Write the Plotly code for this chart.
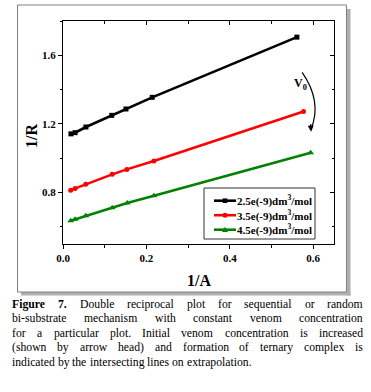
import plotly.graph_objects as go

# ---------------- data ----------------
series_names = ["<b>2.5e(-9)dm<sup>3</sup>/mol</b>",
                "<b>3.5e(-9)dm<sup>3</sup>/mol</b>",
                "<b>4.5e(-9)dm<sup>3</sup>/mol</b>"]
x_black = [0.019, 0.029, 0.055, 0.117, 0.151, 0.214, 0.561]
y_black = [1.142, 1.149, 1.182, 1.250, 1.287, 1.355, 1.706]
x_red = [0.0185, 0.029, 0.0545, 0.118, 0.153, 0.218, 0.577]
y_red = [0.814, 0.824, 0.849, 0.906, 0.935, 0.984, 1.272]
x_green = [0.0185, 0.029, 0.0545, 0.118, 0.154, 0.218, 0.594]
y_green = [0.636, 0.644, 0.665, 0.712, 0.739, 0.782, 1.032]

x_ticks = [0.0, 0.2, 0.4, 0.6]
x_ticklabels = ["0.0", "0.2", "0.4", "0.6"]
y_ticks = [0.8, 1.2, 1.6]
y_ticklabels = ["0.8", "1.2", "1.6"]

caption_lines = [
    [("Figure", True), ("7.", True), ("Double", False), ("reciprocal", False), ("plot", False),
     ("for", False), ("sequential", False), ("or", False), ("random", False)],
    [(w, False) for w in "bi-substrate mechanism with constant venom concentration".split()],
    [(w, False) for w in "for a particular plot. Initial venom concentration is increased".split()],
    [(w, False) for w in "(shown by arrow head) and formation of ternary complex is".split()],
    [(w, False) for w in "indicated by the intersecting lines on extrapolation.".split()],
]

# ---------------- layout geometry ----------------
W, H = 371, 392
PL, PT, PW, PH = 63, 21, 271, 223


def px2x(px):
    return (px - PL) / PW


def py2y(py):
    return (PT + PH - py) / PH


SERIF = "Liberation Serif"

fig = go.Figure()
styles = [("black", "square", 5), ("#ff0000", "circle", 5), ("#008000", "triangle-up", 6)]
for name, xs, ys, (col, sym, ms) in zip(series_names,
                                          [x_black, x_red, x_green],
                                          [y_black, y_red, y_green], styles):
    fig.add_trace(go.Scatter(x=xs, y=ys, name=name, mode="lines+markers",
                             line=dict(color=col, width=2.6),
                             marker=dict(color=col, symbol=sym, size=ms)))

# dummy trace for mirrored (inside) axes
fig.add_trace(go.Scatter(x=[None], y=[None], xaxis="x2", yaxis="y2",
                         showlegend=False, hoverinfo="skip"))

tickfont = dict(family=SERIF, size=11, color="black", weight="bold")
common = dict(showgrid=False, zeroline=False, showline=True, linecolor="black",
              linewidth=1)
fig.update_layout(
    width=W, height=H,
    margin=dict(l=PL, r=W - PL - PW, t=PT, b=H - PT - PH),
    paper_bgcolor="white", plot_bgcolor="rgba(0,0,0,0)",
    showlegend=False,
    xaxis=dict(range=[0, 0.65], tickvals=x_ticks, ticktext=x_ticklabels,
               ticks="outside", ticklen=4, tickcolor="black", tickfont=tickfont,
               minor=dict(dtick=0.1, tick0=0, ticks="outside", ticklen=2.5, tickcolor="black"),
               **common),
    yaxis=dict(range=[0.5, 1.8], tickvals=y_ticks, ticktext=y_ticklabels,
               ticks="outside", ticklen=4, tickcolor="black", tickfont=tickfont,
               minor=dict(dtick=0.2, tick0=0.6, ticks="outside", ticklen=2.5, tickcolor="black"),
               **common),
    xaxis2=dict(range=[0, 0.65], overlaying="x", side="top", anchor="y",
                tickvals=[0.0, 0.2, 0.4, 0.6], showticklabels=False,
                ticks="inside", ticklen=4, tickcolor="black",
                minor=dict(dtick=0.1, tick0=0, ticks="inside", ticklen=2.5, tickcolor="black"),
                **common),
    yaxis2=dict(range=[0.5, 1.8], overlaying="y", side="right", anchor="x",
                tickvals=y_ticks, showticklabels=False,
                ticks="inside", ticklen=4, tickcolor="black",
                minor=dict(dtick=0.2, tick0=0.6, ticks="inside", ticklen=2.5, tickcolor="black"),
                **common),
)

# frame with shadow
shapes = [
    dict(type="rect", xref="paper", yref="paper",
         x0=px2x(346.5), x1=px2x(350.5), y0=py2y(9), y1=py2y(295.5),
         fillcolor="#b0b0b0", line=dict(width=0), layer="below"),
    dict(type="rect", xref="paper", yref="paper",
         x0=px2x(21), x1=px2x(350.5), y0=py2y(292), y1=py2y(295.5),
         fillcolor="#b0b0b0", line=dict(width=0), layer="below"),
    dict(type="rect", xref="paper", yref="paper",
         x0=px2x(17.5), x1=px2x(346.5), y0=py2y(292), y1=py2y(5),
         fillcolor="white", line=dict(color="#808080", width=1), layer="below"),
    # curved arrow (V0 increase)
    dict(type="path", xref="x", yref="y",
         path="M 0.5736,1.50 Q 0.622,1.33 0.595,1.17",
         line=dict(color="black", width=1.2)),
]

annotations = [
    dict(x=0.595, y=1.155, ax=-0.5, ay=-9, xref="x", yref="y", text="",
         showarrow=True, arrowhead=2, arrowsize=1, arrowwidth=1.2, arrowcolor="black"),
    dict(x=0.569, y=1.435, xref="x", yref="y", xanchor="center", yanchor="middle",
         text="<b>V</b><sub><b>0</b></sub>", showarrow=False,
         font=dict(family=SERIF, size=12, color="black")),
    dict(x=px2x(31), y=py2y(136), xref="paper", yref="paper", text="<b>1/R</b>",
         xanchor="center", yanchor="middle",
         textangle=-90, showarrow=False, font=dict(family=SERIF, size=16, color="black")),
    dict(x=px2x(198.5), y=py2y(280), xref="paper", yref="paper", text="<b>1/A</b>",
         xanchor="center", yanchor="middle",
         showarrow=False, font=dict(family=SERIF, size=16, color="black")),
]

# ---- legend box (drawn to match the compact Origin legend) ----
LX0, LX1, LY0, LY1 = 204, 315, 188, 239
shapes.append(dict(type="rect", xref="paper", yref="paper",
                   x0=px2x(LX0), x1=px2x(LX1), y0=py2y(LY1), y1=py2y(LY0),
                   fillcolor="white", line=dict(color="#333333", width=1)))
row_y = [200.7, 215.2, 229.7]
for (col, sym, ms), name, ry in zip(styles, series_names, row_y):
    shapes.append(dict(type="line", xref="paper", yref="paper",
                       x0=px2x(214), x1=px2x(236), y0=py2y(ry), y1=py2y(ry),
                       line=dict(color=col, width=2.6)))
    cx = 225
    if sym == "square":
        shapes.append(dict(type="rect", xref="paper", yref="paper",
                           x0=px2x(cx - 2.3), x1=px2x(cx + 2.3),
                           y0=py2y(ry + 2.3), y1=py2y(ry - 2.3),
                           fillcolor=col, line=dict(width=0)))
    elif sym == "circle":
        shapes.append(dict(type="circle", xref="paper", yref="paper",
                           x0=px2x(cx - 2.5), x1=px2x(cx + 2.5),
                           y0=py2y(ry + 2.5), y1=py2y(ry - 2.5),
                           fillcolor=col, line=dict(width=0)))
    else:
        shapes.append(dict(type="path", xref="paper", yref="paper",
                           path=(f"M {px2x(cx - 3)},{py2y(ry + 2.3)} "
                                 f"L {px2x(cx + 3)},{py2y(ry + 2.3)} "
                                 f"L {px2x(cx)},{py2y(ry - 3)} Z"),
                           fillcolor=col, line=dict(width=0)))
    annotations.append(dict(x=px2x(237), y=py2y(ry), xref="paper", yref="paper",
                            xanchor="left", yanchor="middle", showarrow=False,
                            text=name, borderpad=0, borderwidth=0,
                            font=dict(family=SERIF, size=11, color="black")))

fig.update_layout(shapes=shapes)

# caption, justified (Times metrics, Liberation Serif is metric compatible)
REG = {' ': 250, '(': 333, ')': 333, ',': 250, '-': 333, '.': 250, '/': 278,
       'A': 722, 'B': 667, 'C': 667, 'D': 722, 'E': 611, 'F': 556, 'G': 722, 'H': 722,
       'I': 333, 'J': 389, 'K': 722, 'L': 611, 'M': 889, 'N': 722, 'O': 722, 'P': 556,
       'Q': 722, 'R': 667, 'S': 556, 'T': 611, 'U': 722, 'V': 722, 'W': 944,
       'a': 444, 'b': 500, 'c': 444, 'd': 500, 'e': 444, 'f': 333, 'g': 500, 'h': 500,
       'i': 278, 'j': 278, 'k': 500, 'l': 278, 'm': 778, 'n': 500, 'o': 500, 'p': 500,
       'q': 500, 'r': 333, 's': 389, 't': 278, 'u': 500, 'v': 500, 'w': 722, 'x': 500,
       'y': 500, 'z': 444}
BOLD = dict(REG)
BOLD.update({'F': 611, 'u': 556, 'r': 444, 'g': 500, 'i': 278, 'e': 444})
for d in "0123456789":
    REG[d] = 500
    BOLD[d] = 500

CAP_SIZE = 11.7
LEFT, RIGHT = 12, 363
centers = [304, 318.5, 333, 347.5, 362]


def wwidth(word, bold):
    tab = BOLD if bold else REG
    return sum(tab.get(c, 500) for c in word) * CAP_SIZE / 1000.0


for li, (words, cy) in enumerate(zip(caption_lines, centers)):
    widths = [wwidth(w, b) for w, b in words]
    if li < len(caption_lines) - 1:
        gap = (RIGHT - LEFT - sum(widths)) / (len(words) - 1)
    else:
        gap = 250 * CAP_SIZE / 1000.0
    xcur = LEFT
    for (w, b), wd in zip(words, widths):
        annotations.append(dict(
            x=px2x(xcur), y=py2y(cy), xref="paper", yref="paper",
            xanchor="left", yanchor="middle", showarrow=False,
            text=f"<b>{w}</b>" if b else w, borderpad=0, borderwidth=0,
            font=dict(family=SERIF, size=CAP_SIZE, color="black")))
        xcur += wd + gap

fig.update_layout(annotations=annotations)
fig.write_html("out.html", config={"displayModeBar": False},
               post_script="document.body.style.margin='0';document.body.style.padding='0';")
